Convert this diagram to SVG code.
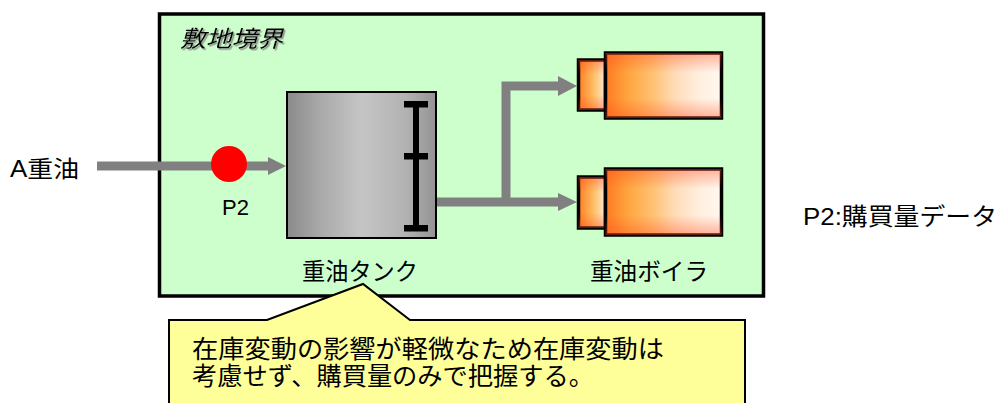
<svg xmlns="http://www.w3.org/2000/svg" width="999" height="403" viewBox="0 0 999 403">
<style>
  .t { font-family: "Liberation Sans", "Noto Sans CJK JP", sans-serif; fill: #000; }
  .pipe { stroke: #808080; stroke-width: 9; fill: none; }
  .head { fill: #808080; }
  .gauge { fill: #000; }
  .boiler { stroke: #000; stroke-width: 3.5; }
</style>
<defs>
  <linearGradient id="tankGrad" x1="0" y1="0" x2="1" y2="0">
    <stop offset="0" stop-color="#8a8a8a"/>
    <stop offset="0.22" stop-color="#a9a9a9"/>
    <stop offset="0.5" stop-color="#c5c5c5"/>
    <stop offset="0.8" stop-color="#b2b2b2"/>
    <stop offset="1" stop-color="#939393"/>
  </linearGradient>
  <linearGradient id="boilGrad" x1="0" y1="0" x2="1" y2="0">
    <stop offset="0" stop-color="#ff7a22"/>
    <stop offset="0.2" stop-color="#ffa640"/>
    <stop offset="0.4" stop-color="#ffc070"/>
    <stop offset="0.6" stop-color="#ffdcb8"/>
    <stop offset="0.8" stop-color="#ffeedd"/>
    <stop offset="1" stop-color="#fff8f0"/>
  </linearGradient>
  <linearGradient id="boilEdge" x1="0" y1="0" x2="0" y2="1">
    <stop offset="0" stop-color="#ff4a20" stop-opacity="0.4"/>
    <stop offset="0.3" stop-color="#ff4a20" stop-opacity="0"/>
    <stop offset="0.7" stop-color="#ff4a20" stop-opacity="0"/>
    <stop offset="1" stop-color="#ff4a20" stop-opacity="0.4"/>
  </linearGradient>
  <linearGradient id="nozGrad" x1="0" y1="0" x2="1" y2="0">
    <stop offset="0" stop-color="#ff7e26"/>
    <stop offset="0.5" stop-color="#ffb85a"/>
    <stop offset="1" stop-color="#ffe8d0"/>
  </linearGradient>
  <filter id="shadow" x="-10%" y="-20%" width="130%" height="150%">
    <feDropShadow dx="1.5" dy="1.5" stdDeviation="0.6" flood-color="#808080" flood-opacity="0.9"/>
  </filter>
</defs>

<g id="site-boundary">
  <rect x="159.5" y="14" width="604" height="282" fill="#ccffcc" stroke="#000" stroke-width="3.5"/>
  <text class="t" x="180" y="47" font-size="23" font-style="italic" textLength="103" lengthAdjust="spacingAndGlyphs" filter="url(#shadow)">敷地境界</text>
</g>

<g id="connectors">
  <line class="pipe" x1="97" y1="166" x2="270" y2="166"/>
  <polygon class="head" points="268,157 286,166 268,175"/>
  <polyline class="pipe" points="436,202 560,202"/>
  <polygon class="head" points="558,193 577,202 558,211"/>
  <polyline class="pipe" points="506,206 506,86 560,86"/>
  <polygon class="head" points="558,76 577,86 558,96"/>
</g>

<g id="input-label">
  <text class="t" x="10" y="177" font-size="23" textLength="69" lengthAdjust="spacingAndGlyphs">A重油</text>
</g>

<g id="p2-point">
  <circle cx="229" cy="164" r="18" fill="#ff0000"/>
  <text class="t" x="222" y="215" font-size="22">P2</text>
</g>

<g id="tank">
  <rect x="287" y="92" width="149" height="146" fill="url(#tankGrad)" stroke="#000" stroke-width="2"/>
  <rect class="gauge" x="413" y="104" width="6" height="124"/>
  <rect class="gauge" x="404" y="101" width="24" height="6.5"/>
  <rect class="gauge" x="404" y="153" width="24" height="6.5"/>
  <rect class="gauge" x="404" y="225" width="24" height="6.5"/>
  <text class="t" x="360" y="280" font-size="24" text-anchor="middle" textLength="116" lengthAdjust="spacingAndGlyphs">重油タンク</text>
</g>

<g id="boiler-1">
  <rect class="boiler" x="578.5" y="60" width="27" height="50" fill="url(#nozGrad)"/>
  <rect x="578.5" y="60" width="27" height="50" fill="url(#boilEdge)"/>
  <rect class="boiler" x="605.5" y="53" width="116" height="65" fill="url(#boilGrad)"/>
  <rect x="605.5" y="53" width="116" height="65" fill="url(#boilEdge)"/>
</g>

<g id="boiler-2">
  <rect class="boiler" x="578.5" y="177" width="27" height="51" fill="url(#nozGrad)"/>
  <rect x="578.5" y="177" width="27" height="51" fill="url(#boilEdge)"/>
  <rect class="boiler" x="605.5" y="169" width="116" height="66" fill="url(#boilGrad)"/>
  <rect x="605.5" y="169" width="116" height="66" fill="url(#boilEdge)"/>
  <text class="t" x="649" y="280" font-size="24" text-anchor="middle" textLength="118" lengthAdjust="spacingAndGlyphs">重油ボイラ</text>
</g>

<g id="legend">
  <text class="t" x="803" y="225" font-size="24" textLength="194" lengthAdjust="spacingAndGlyphs">P2:購買量データ</text>
</g>

<g id="callout">
  <polygon points="169,320 267,320 363,284 410,320 745,320 745,410 169,410" fill="#ffff99" stroke="#000" stroke-width="2"/>
  <text class="t" x="192" y="358" font-size="25" textLength="472" lengthAdjust="spacingAndGlyphs">在庫変動の影響が軽微なため在庫変動は</text>
  <text class="t" x="192" y="385" font-size="25" textLength="402" lengthAdjust="spacingAndGlyphs">考慮せず、購買量のみで把握する。</text>
</g>
</svg>
